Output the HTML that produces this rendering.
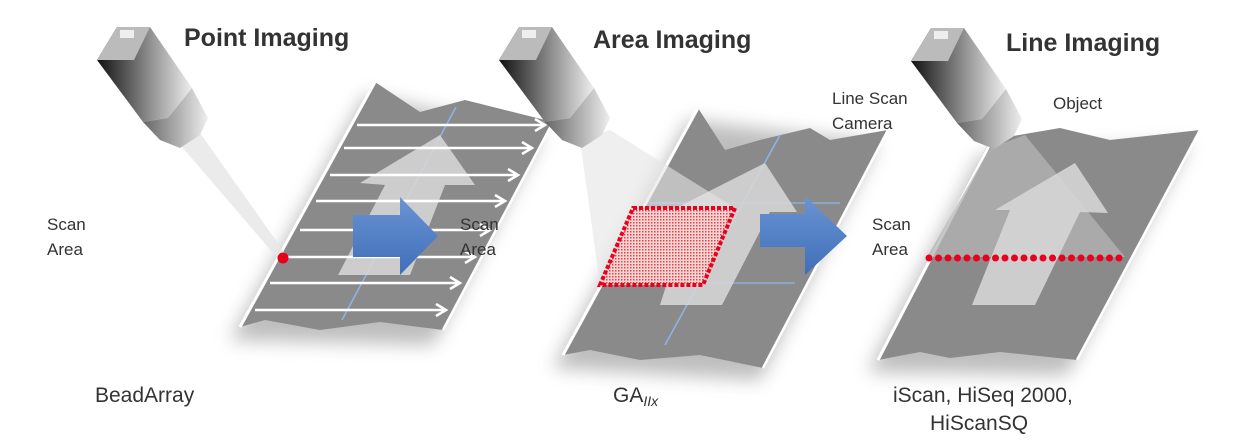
<!DOCTYPE html>
<html><head><meta charset="utf-8"><style>
html,body{margin:0;padding:0;background:#fff;}
svg{display:block;font-family:"Liberation Sans",sans-serif;}
</style></head><body>
<svg width="1243" height="442" viewBox="0 0 1243 442" xmlns="http://www.w3.org/2000/svg">
<defs>
<linearGradient id="cam" x1="0" y1="0" x2="1" y2="0">
<stop offset="0" stop-color="#111"/><stop offset="0.6" stop-color="#999"/><stop offset="1" stop-color="#eee"/></linearGradient>
<linearGradient id="lens" x1="0" y1="0" x2="1" y2="0">
<stop offset="0" stop-color="#666"/><stop offset="1" stop-color="#eee"/></linearGradient>
<linearGradient id="blu" x1="0" y1="0" x2="0" y2="1">
<stop offset="0" stop-color="#6a94d4"/><stop offset="1" stop-color="#3f6fb8"/></linearGradient>
<filter id="sh" x="-30%" y="-30%" width="160%" height="160%"><feGaussianBlur stdDeviation="9"/></filter>
<pattern id="dots" width="3" height="3" patternUnits="userSpaceOnUse"><rect width="3" height="3" fill="#f6d6d6"/><rect width="1.5" height="1.5" fill="#e84040"/></pattern>
</defs>

<g fill="#888" opacity="0.55" filter="url(#sh)">
<polygon points="365,95 543,135 433,345 230,340"/>
<polygon points="688,120 878,143 760,380 553,368"/>
<polygon points="980,155 1190,143 1067,375 868,372"/>
</g>

<polygon points="375,82 420,112 465,100 553,122 443,330 380,322 320,330 265,320 240,327" fill="#8a8a8a"/>
<line x1="375" y1="82" x2="240" y2="327" stroke="#fff" stroke-width="3"/>
<line x1="553" y1="122" x2="443" y2="330" stroke="#fff" stroke-width="2.5"/>
<line x1="456" y1="107" x2="342" y2="320" stroke="#8fb4e8" stroke-width="1.5"/>
<polygon points="440,135 475,185 445,185 410,275 338,275 385,185 360,183" fill="#d8d8d8" opacity="0.85"/>
<g stroke="#fff" stroke-width="2.5" fill="none">
<path d="M357,125H545M535,119l10,6l-10,6"/>
<path d="M344,148H532M522,142l10,6l-10,6"/>
<path d="M330,175H518M508,169l10,6l-10,6"/>
<path d="M316,201H505M495,195l10,6l-10,6"/>
<path d="M300,230H490M480,224l10,6l-10,6"/>
<path d="M285,257H475M465,251l10,6l-10,6"/>
<path d="M270,283H460M450,277l10,6l-10,6"/>
<path d="M255,310H446M436,304l10,6l-10,6"/>
</g>
<polygon points="353,215 400,215 400,197 438,236 400,275 400,257 353,257" fill="url(#blu)"/>
<polygon points="176,140 200,133 287,256 279,260" fill="#e6e6e6" opacity="0.8"/>
<circle cx="283" cy="258" r="5.5" fill="#e8001c"/>

<polygon points="698,108 725,150 760,140 810,128 830,140 888,130 763,368 700,355 640,360 590,350 563,355" fill="#8a8a8a"/>
<line x1="698" y1="108" x2="563" y2="355" stroke="#fff" stroke-width="3"/>
<line x1="888" y1="130" x2="763" y2="368" stroke="#fff" stroke-width="2.5"/>
<line x1="780" y1="135" x2="665" y2="345" stroke="#8fb4e8" stroke-width="1.5"/>
<line x1="650" y1="203" x2="840" y2="203" stroke="#8fb4e8" stroke-width="1.2"/>
<line x1="600" y1="283" x2="795" y2="283" stroke="#8fb4e8" stroke-width="1.2"/>
<polygon points="765,163 797,212 770,212 722,305 660,305 690,210 672,210" fill="#d8d8d8" opacity="0.85"/>
<polygon points="580,140 610,130 735,208 703,285 600,285" fill="#e4e4e4" opacity="0.6"/>
<polygon points="633,208 735,208 703,285 600,285" fill="url(#dots)" stroke="#e8001c" stroke-width="4" stroke-dasharray="4,2"/>
<polygon points="760,214 805,214 805,196 847,236 805,275 805,247 760,247" fill="url(#blu)"/>

<polygon points="990,140 1060,128 1110,140 1200,130 1077,360 1000,352 950,358 920,352 878,360" fill="#8a8a8a"/>
<line x1="992" y1="140" x2="878" y2="360" stroke="#fff" stroke-width="3"/>
<line x1="1200" y1="130" x2="1077" y2="360" stroke="#fff" stroke-width="2.5"/>
<polygon points="990,148 1025,135 1125,257 927,257" fill="#b4b4b4" opacity="0.75"/>
<polygon points="1075,163 1108,213 1080,212 1035,305 972,305 1010,210 995,210" fill="#d8d8d8" opacity="0.85"/>
<g fill="#e8001c">
<circle cx="929" cy="258" r="3.5"/><circle cx="938.5" cy="258" r="3.5"/><circle cx="948" cy="258" r="3.5"/><circle cx="957.5" cy="258" r="3.5"/><circle cx="967" cy="258" r="3.5"/><circle cx="976.5" cy="258" r="3.5"/><circle cx="986" cy="258" r="3.5"/><circle cx="995.5" cy="258" r="3.5"/><circle cx="1005" cy="258" r="3.5"/><circle cx="1014.5" cy="258" r="3.5"/><circle cx="1024" cy="258" r="3.5"/><circle cx="1033.5" cy="258" r="3.5"/><circle cx="1043" cy="258" r="3.5"/><circle cx="1052.5" cy="258" r="3.5"/><circle cx="1062" cy="258" r="3.5"/><circle cx="1071.5" cy="258" r="3.5"/><circle cx="1081" cy="258" r="3.5"/><circle cx="1090.5" cy="258" r="3.5"/><circle cx="1100" cy="258" r="3.5"/><circle cx="1109.5" cy="258" r="3.5"/><circle cx="1119" cy="258" r="3.5"/>
</g>

<g id="c1">
<polygon points="97,60 117,27 150,27 192,88 168,118 143,122" fill="url(#cam)"/>
<polygon points="117,27 150,27 134,60 97,60" fill="#bbb"/>
<rect x="120" y="30" width="14" height="8" fill="#eee"/>
<polygon points="143,122 168,118 192,88 208,118 200,135 180,148 160,140" fill="url(#lens)"/>
</g>
<use href="#c1" transform="translate(402,0)"/>
<use href="#c1" transform="translate(814,1)"/>

<g fill="#333" font-weight="bold" font-size="25">
<text x="184" y="46">Point Imaging</text>
<text x="593" y="48">Area Imaging</text>
<text x="1006" y="51">Line Imaging</text>
</g>
<g fill="#333" font-size="17">
<text x="47" y="230">Scan</text><text x="47" y="255">Area</text>
<text x="460" y="230">Scan</text><text x="460" y="255">Area</text>
<text x="872" y="230">Scan</text><text x="872" y="255">Area</text>
<text x="832" y="104">Line Scan</text><text x="832" y="129">Camera</text>
<text x="1053" y="109">Object</text>
</g>
<g fill="#333" font-size="21">
<text x="95" y="402">BeadArray</text>
<text x="613" y="402">GA<tspan font-style="italic" font-size="14" dy="4">IIx</tspan></text>
<text x="893" y="402">iScan, HiSeq 2000,</text>
<text x="930" y="430">HiScanSQ</text>
</g>
</svg>
</body></html>
